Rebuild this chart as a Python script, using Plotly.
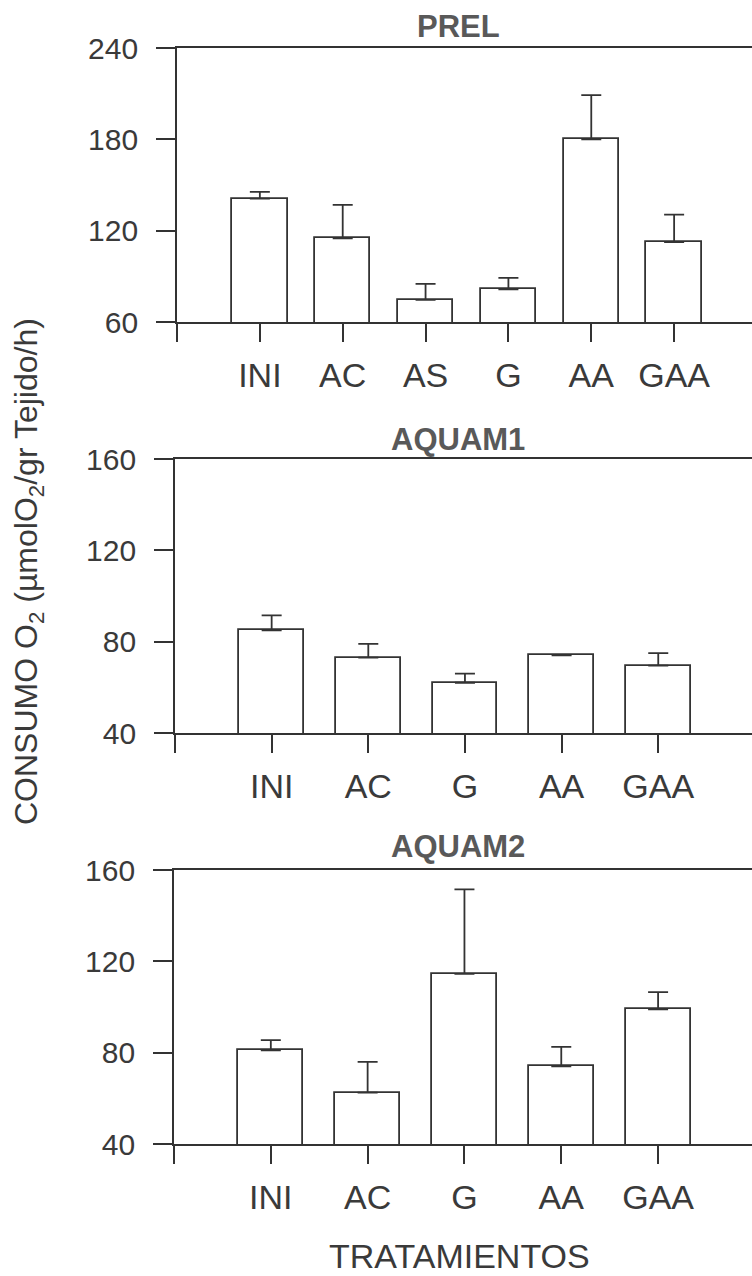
import plotly.graph_objects as go

# ---------------- data ----------------
prel_cats = ["INI", "AC", "AS", "G", "AA", "GAA"]
prel_mean = [141, 115, 74.5, 81.5, 180, 112.5]
prel_err = [4.5, 22, 10.5, 7.5, 29, 18]

aquam1_cats = ["INI", "AC", "G", "AA", "GAA"]
aquam1_mean = [85, 73, 62, 74, 69.5]
aquam1_err = [6.5, 6, 4, 0, 5.5]

aquam2_cats = ["INI", "AC", "G", "AA", "GAA"]
aquam2_mean = [81, 62.5, 114.5, 74, 99]
aquam2_err = [4.5, 13.5, 37, 8.5, 7.5]

panel_titles = ["PREL", "AQUAM1", "AQUAM2"]
y_ranges = [[60, 240], [40, 160], [40, 160]]
y_ticks = [[60, 120, 180, 240], [40, 80, 120, 160], [40, 80, 120, 160]]

# ---------------- layout geometry (px) ----------------
W, H = 752, 1276
FONT = "Liberation Sans, Arial, sans-serif"
LINE = "#333333"
TXT = "#3a3a3a"

panels = [
    (prel_cats, prel_mean, prel_err, 177, 48, 322, 5.94),
    (aquam1_cats, aquam1_mean, aquam1_err, 175, 459, 733, 4.97),
    (aquam2_cats, aquam2_mean, aquam2_err, 174, 870, 1144, 4.97),
]

fig = go.Figure()

for i, (cats, mean, err, xl, yt, yb, xr) in enumerate(panels):
    n = i + 1
    xa = "x" if n == 1 else f"x{n}"
    ya = "y" if n == 1 else f"y{n}"
    pos = list(range(len(cats)))
    fig.add_trace(go.Bar(
        x=pos, y=mean, xaxis=xa, yaxis=ya, width=0.67,
        marker=dict(color="white", line=dict(color=LINE, width=1.8)),
        error_y=dict(type="data", symmetric=False, array=err,
                     arrayminus=[0] * len(err), color=LINE,
                     thickness=1.8, width=10),
        showlegend=False,
    ))
    xkey = "xaxis" if n == 1 else f"xaxis{n}"
    ykey = "yaxis" if n == 1 else f"yaxis{n}"
    fig.update_layout(**{
        xkey: dict(
            domain=[xl / W, 1.0], anchor=ya, range=[-1, xr], automargin=False,
            tickmode="array", tickvals=pos, ticktext=cats,
            ticks="outside", ticklen=18, tickwidth=1.5, tickcolor=LINE,
            minor=dict(tickmode="array", tickvals=[-1], ticks="outside",
                       ticklen=18, tickwidth=1.5, tickcolor=LINE, showgrid=False),
            showline=True, linecolor=LINE, linewidth=1.7, mirror=True,
            showgrid=False, zeroline=False,
            tickfont=dict(family=FONT, size=34, color=TXT),
            ticklabelstandoff=4,
        ),
        ykey: dict(
            domain=[1 - yb / H, 1 - yt / H], anchor=xa, range=y_ranges[i],
            automargin=False,
            tickmode="array", tickvals=y_ticks[i],
            ticks="outside", ticklen=19, tickwidth=1.5, tickcolor=LINE,
            showline=True, linecolor=LINE, linewidth=1.7, mirror=True,
            showgrid=False, zeroline=False,
            tickfont=dict(family=FONT, size=30, color=TXT),
            ticklabelstandoff=12,
        ),
    })

title_y = [26, 439, 846]
annotations = []
for t, ty in zip(panel_titles, title_y):
    annotations.append(dict(
        text=f"<b>{t}</b>", x=458 / W, y=1 - ty / H, xref="paper", yref="paper",
        xanchor="center", yanchor="middle", showarrow=False,
        font=dict(family=FONT, size=31, color="#595959"),
    ))
annotations.append(dict(
    text="CONSUMO O<sub>2</sub> (µmolO<sub>2</sub>/gr Tejido/h)",
    x=28 / W, y=1 - 572 / H, xref="paper", yref="paper", textangle=-90,
    xanchor="center", yanchor="middle", showarrow=False,
    font=dict(family=FONT, size=32, color=TXT),
))
annotations.append(dict(
    text="TRATAMIENTOS", x=459 / W, y=1 - 1256 / H, xref="paper", yref="paper",
    xanchor="center", yanchor="middle", showarrow=False, borderpad=0,
    font=dict(family=FONT, size=34, color=TXT),
))

fig.update_layout(
    template="none",
    width=W, height=H, margin=dict(l=0, r=0, t=0, b=0, pad=0),
    paper_bgcolor="white", plot_bgcolor="white",
    annotations=annotations, bargap=0,
)

fig.write_html("out.html")
